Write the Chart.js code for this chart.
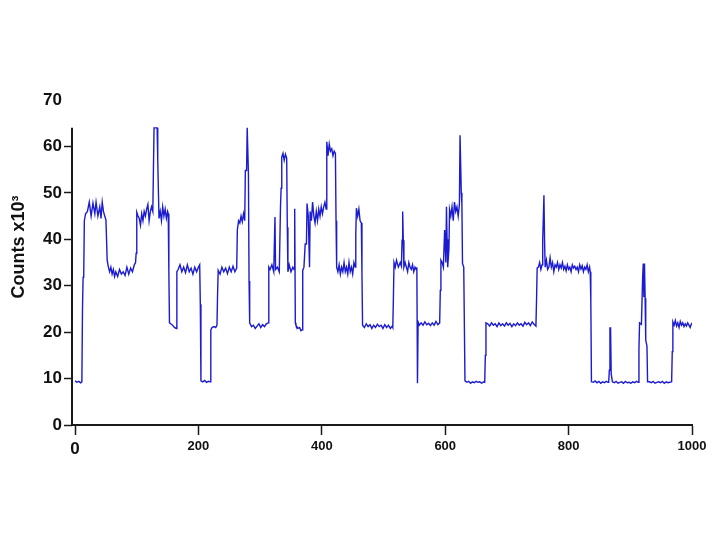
<!DOCTYPE html>
<html>
<head>
<meta charset="utf-8">
<script src="https://cdn.jsdelivr.net/npm/chart.js@4/dist/chart.umd.min.js"></script>
<style>
  html, body { margin: 0; padding: 0; background: #fff; }
  #wrap { width: 720px; height: 535px; }
</style>
</head>
<body>
<div id="wrap"><canvas id="c" width="720" height="535"></canvas></div>
<script>
// ---- data ----
const timeIndex = [
  0,3,6,9,11,12,13,14,15,17,20,23,26,29,32,34,37,40,42,44,46,48,50,
  51,52,54,56,58,60,62,64,66,69,72,75,78,81,84,87,90,93,96,98,
  99,100,102,104,106,108,110,112,114,116,118,120,122,124,126,
  127,128,133,134,136,138,140,142,144,146,148,150,151,
  152,153,155,158,161,164,
  165,167,170,173,176,179,182,185,188,191,194,197,200,202,
  203,204,207,210,213,216,219,
  220,222,225,228,230,231,232,235,238,241,244,247,250,253,256,259,262,
  263,265,267,269,271,273,275,276,278,279,280,281,282,283,286,289,292,295,298,301,304,307,310,313,
  314,316,319,322,324,325,328,331,
  333,334,335,337,339,341,343,
  344,345,347,350,353,355,356,357,358,361,364,366,368,
  369,371,373,375,376,378,380,381,383,385,387,389,391,393,395,397,399,401,403,405,407,
  408,410,412,414,416,418,420,422,
  423,424,426,428,430,432,434,436,438,440,442,444,446,448,450,452,454,
  455,456,458,460,462,464,
  465,466,469,472,475,478,481,484,487,490,493,496,499,502,505,508,511,514,515,
  516,517,519,521,524,527,529,530,531,532,533,535,537,539,541,543,545,547,549,551,553,554,
  555,556,558,561,564,567,570,573,576,579,582,585,588,591,
  592,593,595,597,599,601,602,603,604,606,607,609,611,613,615,617,619,621,623,
  624,625,626,627,628,630,632,635,638,641,644,647,650,653,656,659,662,664,
  665,666,669,672,675,678,681,684,687,690,693,696,699,702,705,708,711,714,717,720,723,726,729,732,735,738,741,744,747,
  748,749,751,753,755,757,758,760,761,762,764,766,768,770,772,774,776,778,780,782,784,786,788,790,792,794,796,798,800,802,804,806,808,810,812,814,816,818,820,822,824,826,828,830,832,834,
  835,836,837,840,843,846,849,852,855,858,861,864,865,
  866,867,868,869,871,874,877,880,883,886,889,892,895,898,901,904,907,910,913,
  914,915,918,920,921,922,923,924,925,927,928,931,934,937,940,943,946,949,952,955,958,961,964,967,
  968,969,971,973,975,977,979,981,983,985,987,989,991,993,995,997,999,1000
];
const counts = [
  9.5,9.2,9.4,9.1,9.3,25,31.8,32,44,45.5,46,48,45,47.8,45.5,48,45,47,44.5,48,46,45,44.2,
  40,35.5,34,33,34,32.5,33.5,32,33,32,33.5,32.5,33,32.2,34,32.5,33.8,33,34.5,35,
  37,45.8,45,44.5,43,45.5,44,46,45,46.5,47.5,44,46,47,46,
  55,64,64,57,44.5,46,44,47,45,46.5,44.5,46,45.5,
  33,22,21.8,21.5,21,20.8,
  33,33.5,34.5,33,34,32.8,34.5,33,33.8,32.5,34,33,34,34.5,
  26,9.5,9.3,9.6,9.2,9.4,9.3,
  20.5,21,21.2,21,21.5,28.4,33.3,32.5,34,33,33.8,32.6,34,33,34.2,33,33.8,
  42,44,43.5,45,43.8,45.5,44,54.8,54.8,64,64,54,31,22,21.2,21.5,20.8,21.3,21.8,21,21.6,21.2,21.8,22,
  34,33.5,34.5,33,44.8,33.5,34,33,
  47.3,51,57.7,58.5,57,58.3,57.5,
  42.6,33,34.5,33,34,33.5,46.6,22,21.5,20.8,21,20.3,20.5,
  33.3,34,39,39,47.7,45,34,46,44,48,45,43.5,46,44,46.5,45,47,45.5,47,48,46.5,
  61,58,60.5,59,59.5,58,59,58.5,
  44,34,33,34.5,32.5,34,33,35,33,34,32.5,35,33,34,32.5,35,34,
  41,46.7,45,46.5,44,43.5,
  32.7,21.5,21,21.8,21.2,21.6,20.8,21.5,21,21.7,21.2,21.5,20.8,21.6,21,21.5,20.8,21.3,21,
  27.5,35,34,35.5,34,35,34.2,39.8,46,39.8,34,35,34,33,35,34,33.5,34.5,33,34,33.5,34,
  9,22.2,21.5,22,21.5,22.2,21.6,21.9,21.4,22,21.5,22.3,21.6,22,
  29,35.5,35,34,42,35,47,40,34,38,46.4,45,47,44,48,46,47,45,47.5,
  62.4,62.4,50,47.7,34.8,34,9.5,9.2,9.4,9,9.3,9.1,9.4,9.2,9.3,9,9.3,9.2,
  15,22,21.8,21.3,22,21.5,21.8,21.2,22,21.4,21.8,21.3,22,21.5,21.9,21.2,21.8,21.4,22,21.5,21.8,21.3,22.1,21.6,22,21.4,22.2,21.7,21.3,
  26.9,33.8,34,35,33.5,34.5,39.8,49.5,39.8,34,35.5,33.5,34,36,34,35,33,34.5,34,35,33.5,34.5,33.8,35,33.5,34.2,33.2,34.5,33.5,34,33,34.5,33.8,34.2,33.5,34,33,34.5,33.6,34.3,33,34,33.5,34.5,33,34,
  33,26.7,9.3,9.2,9.5,9.1,9.4,9,9.3,9.1,9.4,9.2,9.3,
  11.8,20.9,20.9,11,9.3,9.1,9.4,9,9.2,9.3,9,9.4,9.1,9.2,9,9.3,9.1,9.4,9.2,
  16.3,22,21.7,31.8,34.8,27.5,34.8,27.3,18.3,17,9.3,9.3,9.1,9.4,9,9.2,9.3,9.1,9.4,9,9.3,9.1,9.2,9.3,
  15.8,22.2,21.5,22.5,21.3,22,21,22.3,21.5,22,21.2,21.8,21.3,22,21.5,21,21.8,21.6
];
const xTickValues = [0, 200, 400, 600, 800, 1000];
const yTickValues = [0, 10, 20, 30, 40, 50, 60, 70];
const yAxisTop = 64;          // value where the drawn y-axis line ends
const yTitle = 'Counts x10\u00B3';

// ---- chart ----
const FONT = '"Liberation Sans", Arial, Helvetica, sans-serif';
const INK = '#111111';
const points = timeIndex.map((t, i) => ({ x: t, y: counts[i] }));

const axisDecor = {
  id: 'axisDecor',
  afterDraw(chart) {
    const ctx = chart.ctx;
    const ys = chart.scales.y;
    const x0 = chart.chartArea.left;
    ctx.save();
    ctx.strokeStyle = '#1a1a1a';
    ctx.lineWidth = 2;
    ctx.beginPath();
    ctx.moveTo(x0, ys.getPixelForValue(0) + 1);
    ctx.lineTo(x0, ys.getPixelForValue(yAxisTop));
    ctx.stroke();
    ctx.translate(19, 247);
    ctx.rotate(-Math.PI / 2);
    ctx.font = 'bold 18px ' + FONT;
    ctx.textAlign = 'center';
    ctx.textBaseline = 'middle';
    ctx.fillStyle = INK;
    ctx.fillText(yTitle, 0, 0);
    ctx.restore();
  }
};

new Chart(document.getElementById('c'), {
  type: 'line',
  data: {
    datasets: [{
      data: points,
      borderColor: '#1b1bd0',
      borderWidth: 1.4,
      pointRadius: 0,
      tension: 0,
      fill: false
    }]
  },
  options: {
    responsive: false,
    animation: false,
    events: [],
    layout: { padding: { left: 0, right: 28, top: 100, bottom: 0 } },
    plugins: { legend: { display: false }, tooltip: { enabled: false } },
    scales: {
      x: {
        type: 'linear',
        min: -5,
        max: 1000,
        afterBuildTicks: s => { s.ticks = xTickValues.map(v => ({ value: v })); },
        afterFit: s => { s.height = 110; },
        border: { display: true, color: '#1a1a1a', width: 2 },
        grid: { display: true, drawOnChartArea: false, drawTicks: true, tickLength: 10, tickColor: '#1a1a1a', tickWidth: 1.5 },
        ticks: {
          color: INK,
          padding: 4,
          maxRotation: 0,
          autoSkip: false,
          callback: v => String(v),
          font: ctx => ({ family: FONT, weight: 'bold', size: (ctx.tick && ctx.tick.value === 0) ? 17 : 13 })
        }
      },
      y: {
        type: 'linear',
        min: 0,
        max: 70,
        afterBuildTicks: s => { s.ticks = yTickValues.map(v => ({ value: v })); },
        afterFit: s => { s.width = 72; },
        border: { display: false },
        grid: {
          display: true, drawOnChartArea: false, drawTicks: true, tickLength: 8, tickWidth: 1.5,
          tickColor: ctx => (ctx.tick && ctx.tick.value > yAxisTop) ? 'rgba(0,0,0,0)' : '#1a1a1a'
        },
        ticks: {
          color: INK,
          padding: 2,
          callback: v => String(v),
          font: { family: FONT, weight: 'bold', size: 17 }
        }
      }
    }
  },
  plugins: [axisDecor]
});
</script>
</body>
</html>
